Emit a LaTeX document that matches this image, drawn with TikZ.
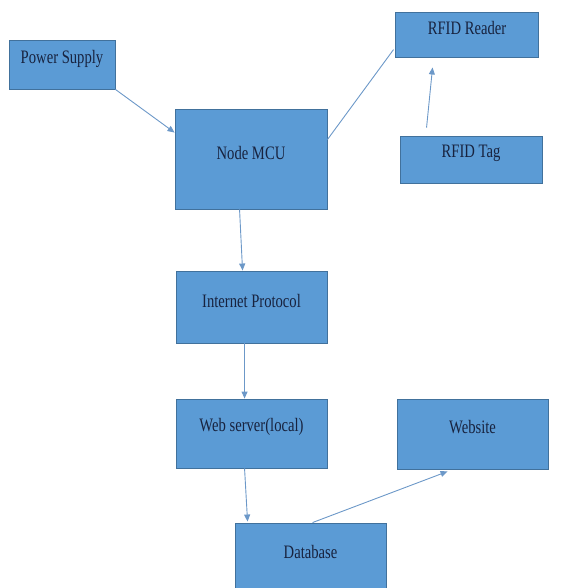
\documentclass[tikz,border=0pt]{standalone}
\usepackage{fontspec}
\setmainfont[FakeStretch=0.77]{Liberation Serif}
\usetikzlibrary{arrows.meta,calc}
\definecolor{boxfill}{HTML}{5B9BD5}
\definecolor{boxline}{HTML}{41719C}
\definecolor{txtcol}{HTML}{18233F}
\definecolor{linecol}{HTML}{6C98C8}
\tikzset{
  blockbox/.style={draw=boxline, fill=boxfill, line width=0.9pt, rectangle, inner sep=0pt},
  blocktext/.style={text=txtcol, font=\fontsize{19}{21}\selectfont, inner sep=0pt},
  conn/.style={draw=linecol, line width=0.9pt},
  arr/.style={conn, -{Triangle[length=7pt,width=6pt]}}
}
\begin{document}
\begin{tikzpicture}[x=1pt,y=-1pt]
\useasboundingbox (0,0) rectangle (566,588);
\clip (0,0) rectangle (566,588);
% boxes
\node[blockbox, minimum width=106pt, minimum height=49pt] (ps) at (62,64.5) {};
\node[blockbox, minimum width=152pt, minimum height=100pt] (mcu) at (251,159) {};
\node[blockbox, minimum width=143pt, minimum height=45pt] (reader) at (466.5,34.5) {};
\node[blockbox, minimum width=142pt, minimum height=47pt] (tag) at (471,159.5) {};
\node[blockbox, minimum width=151pt, minimum height=72pt] (ip) at (251.5,307) {};
\node[blockbox, minimum width=151pt, minimum height=69pt] (web) at (251.5,433.5) {};
\node[blockbox, minimum width=151pt, minimum height=70pt] (site) at (472.5,434) {};
\node[blockbox, minimum width=151pt, minimum height=69pt] (db) at (310.5,557.5) {};
% texts
\node[blocktext] (pst) at (62,59) {Power Supply};
\node[blocktext] (mcut) at (251,153) {Node MCU};
\node[blocktext] (readert) at (467,28) {RFID Reader};
\node[blocktext] (tagt) at (471,153) {RFID Tag};
\node[blocktext] (ipt) at (251.5,301) {Internet Protocol};
\node[blocktext] (webt) at (251.5,427) {Web server(local)};
\node[blocktext] (sitet) at (472.5,427) {Website};
\node[blocktext] (dbt) at (310.5,552) {Database};
% connectors
\draw[arr] (ps.south east) -- ($(mcu.north west)+(0,24)$);
\draw[conn] ($(mcu.north east)+(0,31)$) -- ($(reader.north west)+(-1,38)$);
\draw[arr] ($(tag.north west)+(27,-8)$) -- ($(reader.south west)+(38,10)$);
\draw[arr] ($(mcu.south west)+(65,0)$) -- ($(ip.north west)+(67,0)$);
\draw[arr] ($(ip.south west)+(69,0)$) -- ($(web.north west)+(69,0)$);
\draw[arr] ($(web.south west)+(69,0)$) -- ($(db.north west)+(13,-1)$);
\draw[arr] ($(db.north west)+(78,0)$) -- ($(site.south west)+(51,2)$);
\end{tikzpicture}
\end{document}
